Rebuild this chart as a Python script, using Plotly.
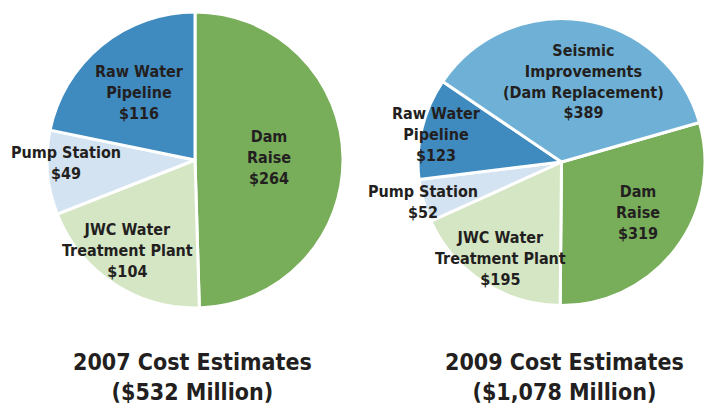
import plotly.graph_objects as go

W, H = 705, 408

# ---- data ----
labels_2007 = ["Dam<br>Raise", "JWC Water<br>Treatment Plant", "Pump Station", "Raw Water<br>Pipeline"]
values_2007 = [264, 104, 49, 116]
colors_2007 = ["#78ad5a", "#d5e6c5", "#d4e3f1", "#3f8bc0"]

labels_2009 = ["Dam<br>Raise", "JWC Water<br>Treatment Plant", "Pump Station", "Raw Water<br>Pipeline",
               "Seismic<br>Improvements<br>(Dam Replacement)"]
values_2009 = [319, 195, 52, 123, 389]
colors_2009 = ["#78ad5a", "#d5e6c5", "#d4e3f1", "#3f8bc0", "#6fb1d6"]

titles = ["2007 Cost Estimates<br>($532 Million)", "2009 Cost Estimates<br>($1,078 Million)"]

FONT = "Liberation Sans Narrow, DejaVu Sans Condensed, Arial Narrow, sans-serif"
TXT = "#231f20"


def px_x(x):
    return x / W


def px_y(y):
    return 1 - y / H


fig = go.Figure()

# left pie: center (195,160), radius 148
fig.add_trace(go.Pie(
    labels=labels_2007, values=values_2007, sort=False, direction="clockwise", rotation=0,
    marker=dict(colors=colors_2007, line=dict(color="white", width=3)),
    textinfo="none", hoverinfo="label+value", showlegend=False,
    domain=dict(x=[px_x(47), px_x(343)], y=[px_y(308), px_y(12)]),
))

# right pie: center ~ (562,162), clipped at right edge
fig.add_trace(go.Pie(
    labels=labels_2009, values=values_2009, sort=False, direction="clockwise", rotation=74,
    marker=dict(colors=colors_2009, line=dict(color="white", width=3)),
    textinfo="none", hoverinfo="label+value", showlegend=False,
    domain=dict(x=[px_x(418), 1.0], y=[px_y(306), px_y(18)]),
))

# slice label positions (pixel centres)
pos_2007 = [(269, 158), (127, 250), (66, 163), (139, 93)]
pos_2009 = [(638, 212), (500, 258), (423, 202), (436, 135), (583, 82)]

annotations = []
for labs, vals, pos in ((labels_2007, values_2007, pos_2007), (labels_2009, values_2009, pos_2009)):
    for lab, v, (x, y) in zip(labs, vals, pos):
        annotations.append(dict(
            x=px_x(x), y=px_y(y), xref="paper", yref="paper",
            text=f"<b>{lab}<br>${v}</b>", showarrow=False,
            font=dict(family=FONT, size=16, color=TXT), align="center",
            xanchor="center", yanchor="middle",
        ))

for t, (x, y) in zip(titles, [(192, 377), (564, 377)]):
    annotations.append(dict(
        x=px_x(x), y=px_y(y), xref="paper", yref="paper",
        text=f"<b>{t}</b>", showarrow=False,
        font=dict(family=FONT, size=23, color=TXT), align="center",
        xanchor="center", yanchor="middle",
    ))

fig.update_layout(
    width=W, height=H, margin=dict(l=0, r=0, t=0, b=0),
    paper_bgcolor="white", plot_bgcolor="white",
    annotations=annotations,
)

fig.write_html("out.html", config={"displayModeBar": False},
               post_script="document.body.style.margin='0';")
